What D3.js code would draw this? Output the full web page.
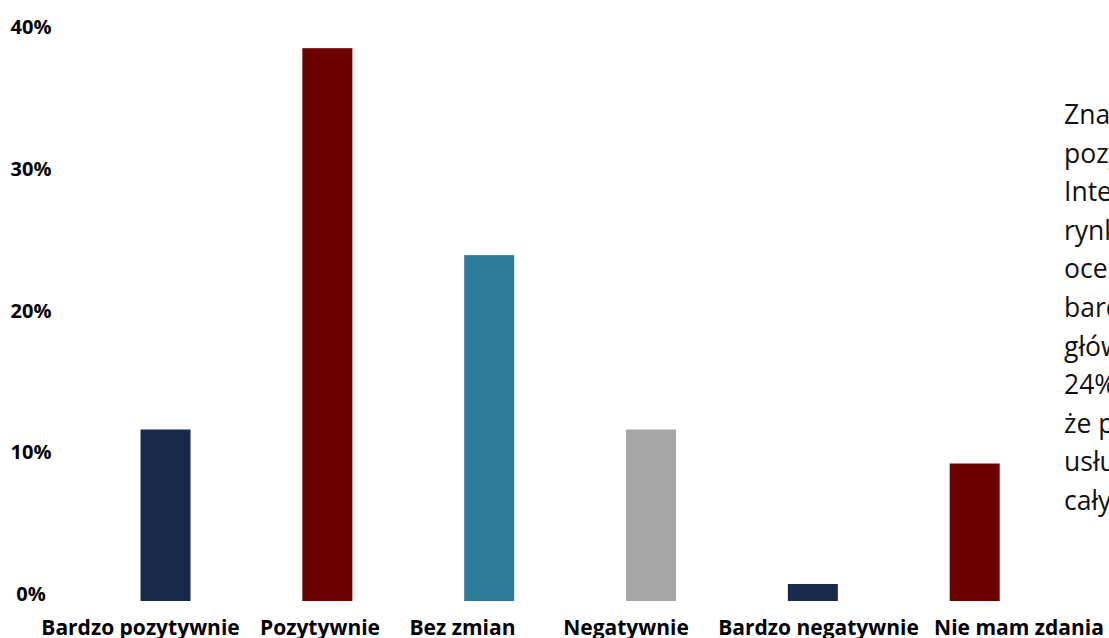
<!DOCTYPE html>
<html lang="pl">
<head>
<meta charset="utf-8">
<script src="https://cdn.jsdelivr.net/npm/d3@7"></script>
<style>
  html, body { margin: 0; padding: 0; background: #ffffff; overflow: hidden; }
  svg { display: block; font-family: "Open Sans", sans-serif; }
</style>
</head>
<body>
<script>
// Ocena zmian – odsetek odpowiedzi w każdej kategorii
const categories = ["Bardzo pozytywnie", "Pozytywnie", "Bez zmian", "Negatywnie", "Bardzo negatywnie", "Nie mam zdania"];
const shares = [12.1, 39.0, 24.4, 12.1, 1.2, 9.7];
const barColors = ["#172a4a", "#6a0000", "#2c7b98", "#a6a6a6", "#172a4a", "#6a0000"];
const tickValues = [0, 10, 20, 30, 40];
const tickLabels = ["0%", "10%", "20%", "30%", "40%"];
const commentLines = [
  "Znaczna część respondentów",
  "pozytywnie ocenia perspektywy",
  "Internetu jako kanału sprzedaży na",
  "rynku: 39% badanych wystawiło",
  "ocenę pozytywną, a 12% –",
  "bardzo pozytywną, wskazując",
  "głównie na wzrost liczby klientów.",
  "24% respondentów uważa,",
  "że popyt na oferowane przez nich",
  "usługi pozostał stabilny przez",
  "cały badany okres."
];

// Layout
const W = 1109, H = 638;
const plot = { left: 84.6, right: 1055.6, top: 34, bottom: 601 };
const labelCenters = [140.5, 320, 462.5, 626, 818.5, 1019];
const comment = { x: 1064, y: 124, lineHeight: 38.6, width: 400, size: 26.5 };

const svg = d3.select("body").append("svg")
  .attr("width", W).attr("height", H);

const x = d3.scaleBand()
  .domain(categories)
  .range([plot.left, plot.right])
  .paddingInner(0.691)
  .paddingOuter(0.3455);

const y = d3.scaleLinear()
  .domain([0, 40])
  .range([plot.bottom, plot.top]);

// Value axis labels: text baseline sits on the tick
svg.append("g").selectAll("text")
  .data(tickValues)
  .join("text")
  .attr("x", 31)
  .attr("y", d => y(d))
  .attr("text-anchor", "middle")
  .attr("font-size", 20)
  .attr("font-weight", 700)
  .attr("fill", "#000")
  .text((d, i) => tickLabels[i]);

// Bars
svg.append("g").selectAll("rect")
  .data(categories)
  .join("rect")
  .attr("x", d => x(d))
  .attr("width", x.bandwidth())
  .attr("y", (d, i) => y(shares[i]))
  .attr("height", (d, i) => y(0) - y(shares[i]))
  .attr("fill", (d, i) => barColors[i]);

// Category labels
svg.append("g").selectAll("text")
  .data(categories)
  .join("text")
  .attr("x", (d, i) => labelCenters[i])
  .attr("y", 635)
  .attr("text-anchor", "middle")
  .attr("font-size", 21)
  .attr("font-weight", 700)
  .attr("fill", "#000")
  .text(d => d);

// Justified commentary on the right
const lines = svg.append("g").selectAll("text")
  .data(commentLines)
  .join("text")
  .attr("x", comment.x)
  .attr("y", (d, i) => comment.y + i * comment.lineHeight)
  .attr("font-size", comment.size)
  .attr("fill", "#111")
  .text(d => d);

lines.each(function(d, i) {
  if (i === commentLines.length - 1) return;
  const spaces = (d.match(/ /g) || []).length;
  if (!spaces) return;
  const len = this.getComputedTextLength();
  const extra = Math.max(0, (comment.width - len) / spaces);
  d3.select(this).attr("word-spacing", extra);
});
</script>
</body>
</html>
